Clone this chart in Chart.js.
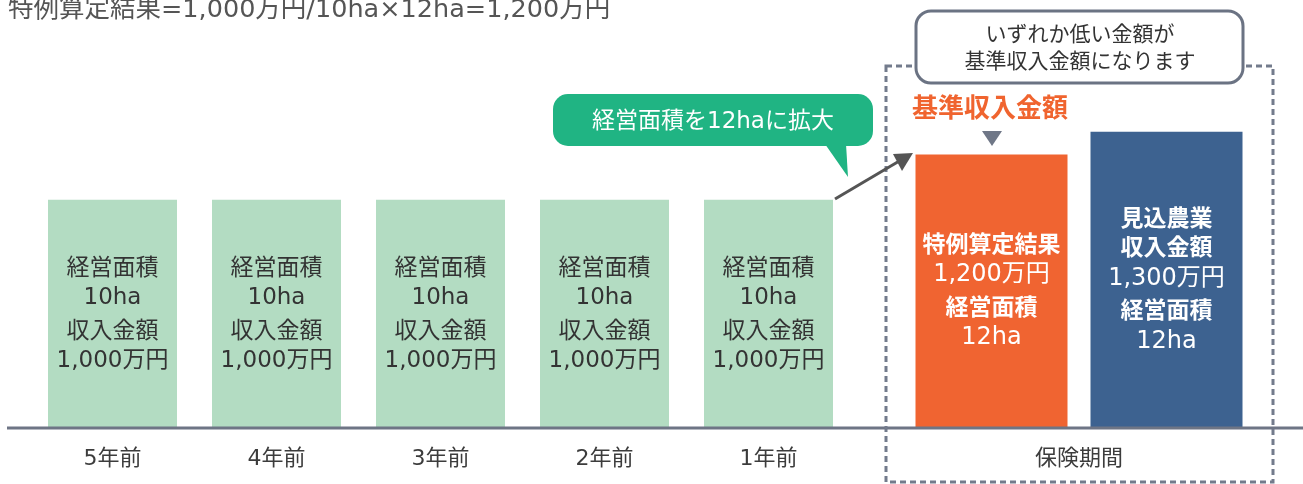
<!DOCTYPE html>
<html lang="ja">
<head>
<meta charset="utf-8">
<title>基準収入金額</title>
<script src="https://cdn.jsdelivr.net/npm/chart.js@4.4.1/dist/chart.umd.min.js"></script>
<style>
  body { margin: 0; background: #fff; }
  #stage { position: relative; width: 1303px; height: 484px; overflow: hidden; font-family: "DejaVu Sans", "Noto Sans CJK JP", sans-serif; }
  .pane { position: absolute; top: 0; height: 484px; }
  #pastPane { left: 0; width: 880px; }
  #periodPane { left: 880px; width: 423px; }
  #notes { position: absolute; left: 0; top: 0; }
</style>
</head>
<body>
<div id="stage">
  <div class="pane" id="pastPane"><canvas id="chartPast"></canvas></div>
  <div class="pane" id="periodPane"><canvas id="chartPeriod"></canvas></div>
  <svg id="notes" width="1303" height="484" font-family="DejaVu Sans, Noto Sans CJK JP, sans-serif">
    <!-- 保険期間の点線枠 -->
    <rect x="886" y="66" width="387" height="416" fill="none" stroke="#737b8c" stroke-width="3" stroke-dasharray="6 4"/>
    <!-- 上の吹き出し -->
    <rect x="916" y="11" width="327" height="72" rx="15" fill="#fff" stroke="#6b7383" stroke-width="3"/>
    <text x="1080" y="34" text-anchor="middle" dominant-baseline="central" font-size="21" fill="#333">いずれか低い金額が</text>
    <text x="1080" y="61" text-anchor="middle" dominant-baseline="central" font-size="21" fill="#333">基準収入金額になります</text>
    <!-- 基準収入金額 + 下向き三角 -->
    <text x="990" y="108" text-anchor="middle" dominant-baseline="central" font-size="26" font-weight="bold" fill="#f0642f">基準収入金額</text>
    <polygon points="982,131 1002,131 992,146" fill="#6f7787"/>
    <!-- 経営面積拡大の吹き出し -->
    <rect x="553" y="94" width="320" height="52" rx="15" fill="#20b483"/>
    <polygon points="825,144 846,144 848,177" fill="#20b483"/>
    <text x="713" y="120" text-anchor="middle" dominant-baseline="central" font-size="23" fill="#fff">経営面積を12haに拡大</text>
    <!-- 矢印 -->
    <line x1="835" y1="199" x2="901" y2="160" stroke="#555" stroke-width="3"/>
    <polygon points="893,154 913,153 902,171" fill="#555"/>
    <!-- 計算式 -->
    <text x="8" y="17" font-size="25.5" fill="#555">特例算定結果=1,000万円/10ha×12ha=1,200万円</text>
  </svg>
</div>
<script>
// ── データ ──────────────────────────────────────────────
const pastYears = ['5年前', '4年前', '3年前', '2年前', '1年前'];
const pastIncome = [1000, 1000, 1000, 1000, 1000];   // 万円
const pastArea = [10, 10, 10, 10, 10];                // ha
const periodLabels = ['保険期間'];
const specialIncome = [1200];    // 特例算定結果
const expectedIncome = [1300];   // 見込農業収入金額
const periodArea = [12];

const FONT = '"DejaVu Sans", "Noto Sans CJK JP", sans-serif';
const yMax = 1880;
const man = (v) => v.toLocaleString('en-US') + '万円';

// 棒の中の文字(グループごとに少し間を空ける)
const barText = {
  id: 'barText',
  afterDatasetsDraw(chart) {
    const ctx = chart.ctx;
    chart.data.datasets.forEach((ds, di) => {
      const meta = chart.getDatasetMeta(di);
      meta.data.forEach((bar, i) => {
        const groups = ds.lines[i];
        if (!groups) return;
        const lineH = 29, gap = 5;
        const n = groups.reduce((a, g) => a + g.length, 0);
        const total = (n - 1) * lineH + (groups.length - 1) * gap;
        let y = (bar.y + bar.base) / 2 - total / 2 + 1.5;
        ctx.save();
        ctx.fillStyle = ds.textColor;
        ctx.textAlign = 'center';
        ctx.textBaseline = 'middle';
        groups.forEach((g) => {
          g.forEach((t) => {
            ctx.font = /\d/.test(t) ? ds.numFont : ds.textFont;
            ctx.fillText(t, bar.x, y);
            y += lineH;
          });
          y += gap;
        });
        ctx.restore();
      });
    });
  },
};

// 地面の線(値0の位置)
function baseLine(fromX) {
  return {
    id: 'baseLine',
    afterDraw(chart) {
      const ctx = chart.ctx;
      const y = chart.scales.y.getPixelForValue(0) + 1;
      ctx.save();
      ctx.strokeStyle = '#6e7585';
      ctx.lineWidth = 3;
      ctx.beginPath();
      ctx.moveTo(fromX, y);
      ctx.lineTo(chart.width, y);
      ctx.stroke();
      ctx.restore();
    },
  };
}

function commonOptions(padLeft, padRight) {
  return {
    responsive: true,
    maintainAspectRatio: false,
    animation: false,
    layout: { padding: { left: padLeft, right: padRight, top: 0, bottom: 0 } },
    plugins: { legend: { display: false }, tooltip: { enabled: false } },
    scales: {
      x: {
        grid: { display: false, drawTicks: false },
        border: { display: false },
        ticks: { font: { size: 22, family: FONT }, color: '#3c3c3c', padding: 19, maxRotation: 0 },
        afterFit: (s) => { s.height = 57; },
      },
      y: { display: false, min: 0, max: yMax },
    },
  };
}

new Chart(document.getElementById('chartPast'), {
  type: 'bar',
  data: {
    labels: pastYears,
    datasets: [{
      data: pastIncome,
      backgroundColor: '#b3dcc2',
      categoryPercentage: 1,
      barPercentage: 129 / 164,
      lines: pastIncome.map((v, i) => [['経営面積', pastArea[i] + 'ha'], ['収入金額', man(v)]]),
      textFont: '23px ' + FONT,
      numFont: '23px ' + FONT,
      textColor: '#333',
    }],
  },
  options: commonOptions(30.5, 29.5),
  plugins: [barText, baseLine(7)],
});

new Chart(document.getElementById('chartPeriod'), {
  type: 'bar',
  data: {
    labels: periodLabels,
    datasets: [
      {
        data: specialIncome,
        backgroundColor: '#f06431',
        categoryPercentage: 350 / 388,
        barPercentage: 152 / 175,
        lines: specialIncome.map((v, i) => [['特例算定結果', man(v)], ['経営面積', periodArea[i] + 'ha']]),
        textFont: 'bold 23px ' + FONT,
        numFont: '24px ' + FONT,
        textColor: '#fff',
      },
      {
        data: expectedIncome,
        backgroundColor: '#3d6290',
        categoryPercentage: 350 / 388,
        barPercentage: 152 / 175,
        lines: expectedIncome.map((v, i) => [['見込農業', '収入金額', man(v)], ['経営面積', periodArea[i] + 'ha']]),
        textFont: 'bold 23px ' + FONT,
        numFont: '24px ' + FONT,
        textColor: '#fff',
      },
    ],
  },
  options: commonOptions(5, 30),
  plugins: [barText, baseLine(0)],
});
</script>
</body>
</html>
